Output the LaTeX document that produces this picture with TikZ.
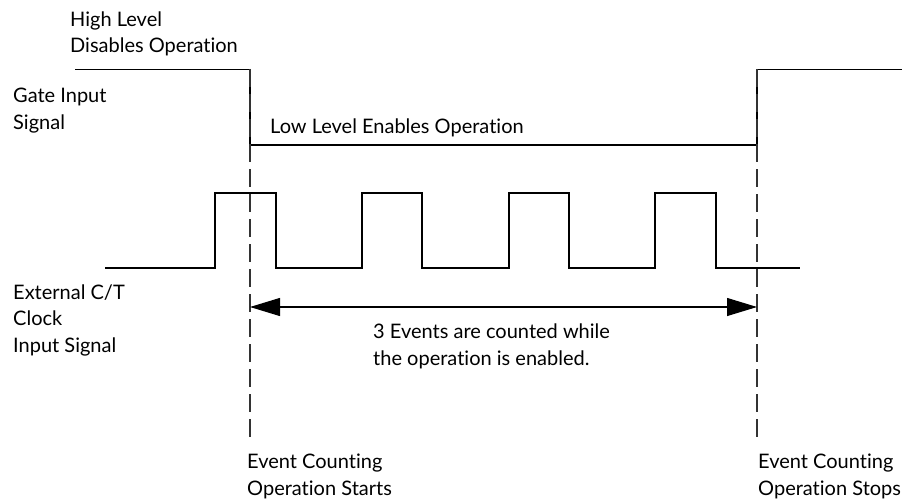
\documentclass[tikz,border=0pt]{standalone}
\usepackage{fontspec}
\setmainfont{Lato}[Ligatures={NoCommon}]
\usetikzlibrary{arrows.meta}
\begin{document}
\begin{tikzpicture}[x=1pt, y=-1pt,
    lbl/.style={anchor=base west, inner sep=0pt, align=left, font=\fontsize{20}{26.5}\selectfont},
    wave/.style={line width=1.3pt},
    marker/.style={line width=1.1pt, dash pattern=on 18pt off 7pt, black!80},
    span/.style={line width=1.1pt, {Triangle[length=30pt, width=18pt]}-{Triangle[length=30pt, width=18pt]}}]
  \useasboundingbox (0,0) rectangle (913,503);
  % gate signal
  \draw[wave] (75,69.5) -- (250,69.5) -- (250,145) -- (757,145) -- (757,69.5) -- (902,69.5);
  % clock signal
  \draw[wave] (105,268) -- (215,268) -- (215,193) -- (276,193) -- (276,268)
    -- (362,268) -- (362,193) -- (422,193) -- (422,268)
    -- (509,268) -- (509,193) -- (569,193) -- (569,268)
    -- (655,268) -- (655,193) -- (716,193) -- (716,268) -- (800,268);
  % start / stop markers
  \coordinate (start) at (250,307);
  \coordinate (stop) at (757,307);
  \draw[marker] (250,69) -- (250,441);
  \draw[marker] (757,69) -- (757,441);
  \draw[span] (start) -- (stop);
  % labels (base = last line)
  \node[lbl] (high) at (70,53) {High Level\\Disables Operation};
  \node[lbl] (gate) at (13,129) {Gate Input\\Signal};
  \node[lbl] (low) at (270,133) {Low Level Enables Operation};
  \node[lbl] (clk) at (13,352) {External C/T\\Clock\\Input Signal};
  \node[lbl] (count) at (373,365) {3 Events are counted while\\the operation is enabled.};
  \node[lbl] (starts) at (247,495) {Event Counting\\Operation Starts};
  \node[lbl] (stops) at (758,495) {Event Counting\\Operation Stops};
\end{tikzpicture}
\end{document}
